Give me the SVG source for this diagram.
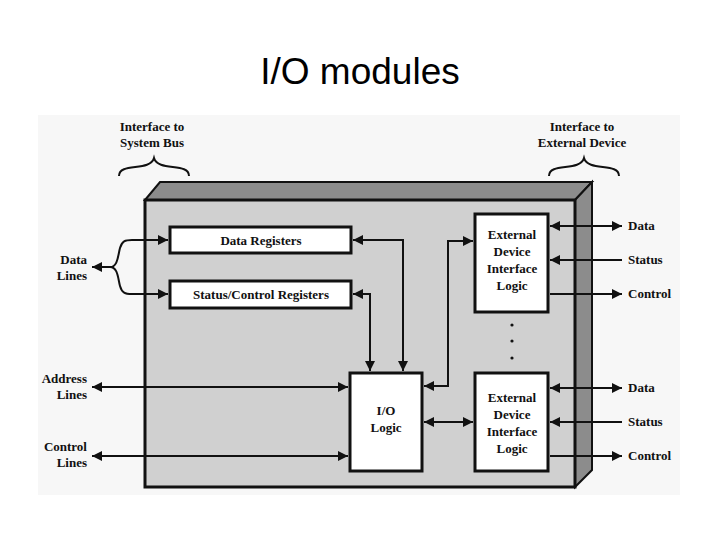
<svg xmlns="http://www.w3.org/2000/svg" width="720" height="540" viewBox="0 0 720 540">
<defs>
<marker id="a" viewBox="0 0 10 10" refX="10" refY="5" markerWidth="5" markerHeight="5" orient="auto-start-reverse"><path d="M0,0L10,5L0,10z" fill="#111"/></marker>
<style>
.t{font-family:"Liberation Serif",serif;font-weight:bold;font-size:13px;fill:#111}
.box{fill:#fff;stroke:#111;stroke-width:3}
.c{fill:none;stroke:#111;stroke-width:2}
</style>
</defs>
<rect width="720" height="540" fill="#fff"/>
<text x="360" y="84" text-anchor="middle" font-family="Liberation Sans,sans-serif" font-size="37" fill="#000">I/O modules</text>
<rect x="38" y="115" width="642" height="380" fill="#f7f7f7"/>
<g id="housing">
<path d="M145,200L160,182H592L575,200Z" fill="#8c8c8c" stroke="#111" stroke-width="2"/>
<path d="M575,200L592,182V470L575,487Z" fill="#8c8c8c" stroke="#111" stroke-width="2"/>
<rect x="145" y="200" width="430" height="287" fill="#d0d0d0" stroke="#111" stroke-width="3"/>
</g>
<g id="braces" class="c">
<path d="M119,176C119,162 150,172 154,158C158,172 189,162 189,176"/>
<path d="M549,176C549,162 580,172 584,158C588,172 619,162 619,176"/>
</g>
<g id="n-datareg"><rect class="box" x="170" y="227" width="181" height="26"/><text class="t" x="261" y="245" text-anchor="middle">Data Registers</text></g>
<g id="n-statreg"><rect class="box" x="170" y="281" width="181" height="27"/><text class="t" x="261" y="299" text-anchor="middle">Status/Control Registers</text></g>
<g id="n-io"><rect class="box" x="350" y="373" width="72" height="98"/><text class="t" x="386" y="415" text-anchor="middle">I/O</text><text class="t" x="386" y="432" text-anchor="middle">Logic</text></g>
<g id="n-ext1"><rect class="box" x="475" y="214" width="73" height="98"/>
<text class="t" x="512" y="239" text-anchor="middle">External</text><text class="t" x="512" y="256" text-anchor="middle">Device</text><text class="t" x="512" y="273" text-anchor="middle">Interface</text><text class="t" x="512" y="290" text-anchor="middle">Logic</text></g>
<g id="n-ext2"><rect class="box" x="475" y="373" width="73" height="98"/>
<text class="t" x="512" y="402" text-anchor="middle">External</text><text class="t" x="512" y="419" text-anchor="middle">Device</text><text class="t" x="512" y="436" text-anchor="middle">Interface</text><text class="t" x="512" y="453" text-anchor="middle">Logic</text></g>
<g id="dots" fill="#111"><circle cx="512" cy="325" r="1.6"/><circle cx="512" cy="341" r="1.6"/><circle cx="512" cy="358" r="1.6"/></g>
<g id="connectors" class="c">
<path d="M92,267H112"  marker-start="url(#a)"/>
<path d="M110,267C118,267 118,255 120,248C122,241 125,240 132,240H168" marker-end="url(#a)"/>
<path d="M110,267C118,267 118,279 120,286C122,293 125,294 132,294H168" marker-end="url(#a)"/>
<path d="M353,240H403V371" marker-start="url(#a)" marker-end="url(#a)"/>
<path d="M353,294H370V371" marker-start="url(#a)" marker-end="url(#a)"/>
<path d="M92,387H348" marker-start="url(#a)" marker-end="url(#a)"/>
<path d="M92,456H348" marker-start="url(#a)" marker-end="url(#a)"/>
<path d="M424,386H448V241H473" marker-start="url(#a)" marker-end="url(#a)"/>
<path d="M424,422H473" marker-start="url(#a)" marker-end="url(#a)"/>
<path d="M550,226H622" marker-start="url(#a)" marker-end="url(#a)"/>
<path d="M622,260H550" marker-end="url(#a)"/>
<path d="M550,294H622" marker-end="url(#a)"/>
<path d="M550,388H622" marker-start="url(#a)" marker-end="url(#a)"/>
<path d="M622,422H550" marker-end="url(#a)"/>
<path d="M550,456H622" marker-end="url(#a)"/>
</g>
<g id="labels" class="t">
<text x="152" y="131" text-anchor="middle">Interface to</text><text x="152" y="147" text-anchor="middle">System Bus</text>
<text x="582" y="131" text-anchor="middle">Interface to</text><text x="582" y="147" text-anchor="middle">External Device</text>
<text x="87" y="264" text-anchor="end">Data</text><text x="87" y="280" text-anchor="end">Lines</text>
<text x="87" y="383" text-anchor="end">Address</text><text x="87" y="399" text-anchor="end">Lines</text>
<text x="87" y="451" text-anchor="end">Control</text><text x="87" y="467" text-anchor="end">Lines</text>
<text x="628" y="230">Data</text><text x="628" y="264">Status</text><text x="628" y="298">Control</text>
<text x="628" y="392">Data</text><text x="628" y="426">Status</text><text x="628" y="460">Control</text>
</g>
</svg>
